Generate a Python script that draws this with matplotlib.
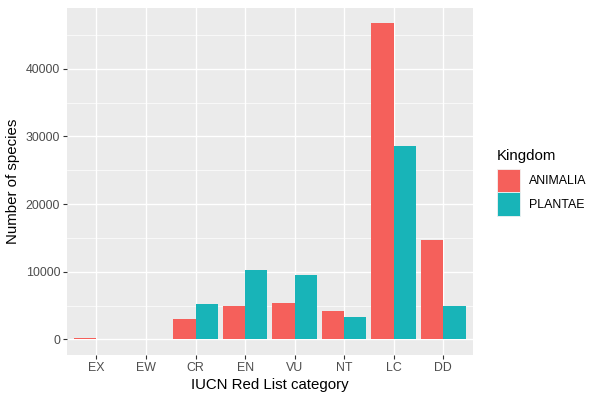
import numpy as np
import matplotlib
matplotlib.use("Agg")
import matplotlib.pyplot as plt
from matplotlib.patches import Patch

# IUCN categories and species counts per kingdom
categories = ["EX", "EW", "CR", "EN", "VU", "NT", "LC", "DD"]
animalia = [250, 10, 3040, 4910, 5350, 4170, 46700, 14650]
plantae = [120, 50, 5210, 10220, 9480, 3290, 28550, 4910]
kingdoms = ["ANIMALIA", "PLANTAE"]
colours = ["#F5605B", "#18B4B8"]

plt.rcParams['font.family'] = ['Liberation Sans', 'DejaVu Sans']

fig = plt.figure(figsize=(6, 4), dpi=100)
ax = fig.add_axes([66.7 / 600, 1 - 355.3 / 400, (473 - 66.7) / 600, (355.3 - 7.5) / 400])

ax.set_facecolor("#EBEBEB")
for s in ax.spines.values():
    s.set_visible(False)

x = np.arange(len(categories))
w = 0.45
ax.bar(x - w / 2, animalia, width=w, color=colours[0], zorder=3)
ax.bar(x + w / 2, plantae, width=w, color=colours[1], zorder=3)

# ggplot-like 5% expansion
ymax = max(max(animalia), max(plantae))
ax.set_xlim(-0.6, len(categories) - 0.4)
ax.set_ylim(-0.05 * ymax, 1.05 * ymax)

ax.set_xticks(x)
ax.set_xticklabels(categories)
ax.set_yticks([0, 10000, 20000, 30000, 40000])
ax.set_yticks([5000, 15000, 25000, 35000, 45000], minor=True)

ax.grid(which="major", color="white", linewidth=1.0, zorder=0)
ax.grid(which="minor", axis="y", color="white", linewidth=0.5, zorder=0)
ax.set_axisbelow(True)

ax.tick_params(axis="both", which="major", length=2.7, width=0.8, color="#333333",
               labelcolor="#4D4D4D", labelsize=8.9, pad=2)
ax.tick_params(axis="both", which="minor", length=0)

ax.set_xlabel("IUCN Red List category", fontsize=10.8, color="black", labelpad=3)
ax.set_ylabel("Number of species", fontsize=10.8, color="black", labelpad=4)

# legend on the right, ggplot style
handles = [Patch(facecolor=c, edgecolor="#F2F2F2", linewidth=0.6) for c in colours]
leg = fig.legend(handles, kingdoms, title="Kingdom", loc="upper left",
                 bbox_to_anchor=(491 / 600, 1 - 143 / 400), frameon=False,
                 fontsize=8.9, title_fontsize=10.8, handlelength=1.85,
                 handleheight=2.55, labelspacing=0.0, handletextpad=0.7,
                 borderpad=0.0, alignment="left")
leg._legend_box.sep = 4  # gap between title and keys

fig.savefig("out.png", dpi=100)
